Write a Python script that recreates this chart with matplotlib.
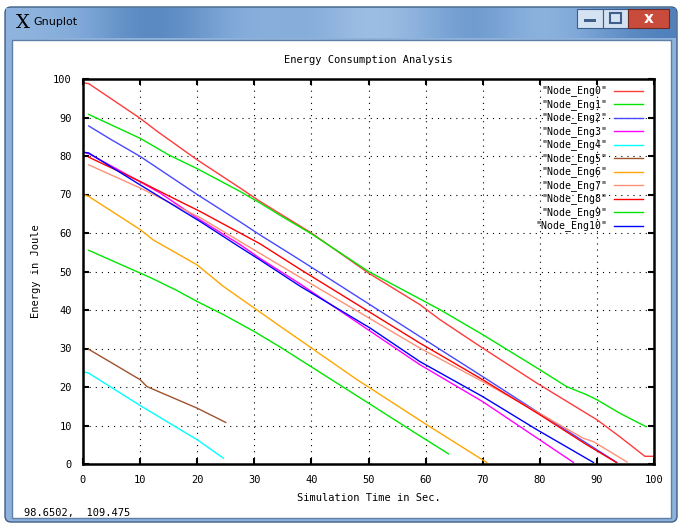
import matplotlib
matplotlib.use("Agg")
import matplotlib.pyplot as plt
import numpy as np
from matplotlib.patches import Rectangle, FancyBboxPatch

# ---- data (time in s, energy in J) ----
eng0_t = [0, 1, 10, 13, 20, 27.5, 31, 40, 50, 59, 62.5, 70, 79.5, 90, 94, 98.4, 100]
eng0_e = [99, 98.8, 89.8, 86.4, 79, 71.7, 68.2, 60, 49.6, 41.4, 37.5, 30.1, 21, 11.5, 7.1, 2, 2]
eng1_t = [1, 10, 15, 20, 27.5, 31, 34.5, 40, 50, 62.5, 70, 80, 84.7, 88.2, 90, 94, 98.6]
eng1_e = [90.8, 84.6, 80.3, 76.7, 70.8, 67.8, 64.6, 59.8, 50, 40.1, 33.6, 24.5, 20.1, 18, 16.7, 13.2, 9.7]
eng2_t = [1, 5, 10, 20, 27.5, 31, 38, 59, 70, 79.5, 93.5]
eng2_e = [87.8, 84.2, 79.9, 70, 62.9, 59.5, 53, 33.1, 22.7, 13.6, 0.4]
eng3_t = [0, 1, 9.4, 13.5, 20.5, 27.5, 31, 38, 50, 59, 70, 85.9]
eng3_e = [81, 80.6, 73.8, 70.4, 63.4, 57, 53.4, 46.8, 34.8, 25.8, 16.2, 0.4]
eng4_t = [0, 1, 10, 20, 24.6]
eng4_e = [24, 23.6, 15.2, 6.3, 1.5]
eng5_t = [1, 10, 11.2, 20, 25]
eng5_e = [29.8, 21.9, 20.1, 14.5, 10.8]
eng6_t = [0, 1, 10, 12.3, 20, 24.6, 30, 34.4, 48, 60.2, 70.7]
eng6_e = [70, 69.5, 60.9, 58.2, 51.7, 46.1, 40.5, 35.9, 21.9, 10.2, 0.4]
eng7_t = [1, 10, 20.5, 27.5, 38, 59, 70, 80, 87.6, 89.4, 95.3]
eng7_e = [77.7, 71.7, 64, 57.8, 48.5, 30.1, 21.4, 13.1, 6.7, 5.8, 0.5]
eng8_t = [1, 10, 15.2, 20.5, 27.5, 31, 38, 59, 70, 80, 88, 93.4]
eng8_e = [79.7, 73.4, 69.5, 65.6, 60, 57.2, 50.6, 31.4, 21.9, 12.8, 5.2, 0.4]
eng9_t = [1, 10, 11.7, 16.4, 20, 24.6, 30, 34.4, 50, 59, 64]
eng9_e = [55.5, 49.6, 48.5, 45.1, 42.2, 38.8, 34.4, 30.5, 15.8, 7.3, 2.65]
eng10_t = [0, 1, 10, 20.5, 27.5, 31, 38, 50.3, 59, 70, 79.5, 89.4]
eng10_e = [81, 80.8, 72.5, 63, 56.3, 53, 46.2, 35.3, 26.6, 17.5, 8.9, 0.4]

labels = ['"Node_Eng%d"' % i for i in range(11)]
series = [(eng0_t, eng0_e), (eng1_t, eng1_e), (eng2_t, eng2_e), (eng3_t, eng3_e),
          (eng4_t, eng4_e), (eng5_t, eng5_e), (eng6_t, eng6_e), (eng7_t, eng7_e),
          (eng8_t, eng8_e), (eng9_t, eng9_e), (eng10_t, eng10_e)]
colors = ["#ff3a3a", "#00e600", "#4848ff", "#ff00ff", "#00ffff", "#a0522d",
          "#ffa500", "#ff9078", "#ff0000", "#00e600", "#0000ff"]

W, H = 678, 523
MONO = "DejaVu Sans Mono"
fig = plt.figure(figsize=(W / 100, H / 100), dpi=100)

# ---- window chrome (pixel coordinates, y down) ----
bg = fig.add_axes([0, 0, 1, 1])
bg.set_xlim(0, W)
bg.set_ylim(H, 0)
bg.axis("off")
frame = FancyBboxPatch((5, 7), 672, 515, boxstyle="round,pad=0,rounding_size=6",
                       facecolor="#8fb2dc", edgecolor="#3e5f86", lw=1)
bg.add_patch(frame)
grad = np.array([[0.55, 0.45, 0.2, 0.35, 0.55, 0.45, 0.7, 0.5, 0.3, 0.6, 0.4, 0.2]])
bg.imshow(grad, cmap=matplotlib.colors.LinearSegmentedColormap.from_list(
    "aero", ["#4f80bb", "#7fa8d8", "#a9c6e8"]), extent=(6, 676, 38, 8),
    aspect="auto", interpolation="bicubic", zorder=2)
bg.add_patch(Rectangle((12, 40), 659, 478, facecolor="white", edgecolor="#5f7fa8",
                       lw=1, zorder=3))
# caption buttons
bg.add_patch(Rectangle((577, 9), 26, 19, facecolor="#d4e2f2", edgecolor="#3b5f8a", lw=0.8, zorder=4))
bg.add_patch(Rectangle((603, 9), 25, 19, facecolor="#d4e2f2", edgecolor="#3b5f8a", lw=0.8, zorder=4))
bg.add_patch(Rectangle((628, 9), 41, 19, facecolor="#c94b3c", edgecolor="#6b2a22", lw=0.8, zorder=4))
bg.add_patch(Rectangle((584, 19), 12, 3, facecolor="#3f5f88", edgecolor="none", zorder=5))
bg.add_patch(Rectangle((610, 13), 11, 10, facecolor="none", edgecolor="#3f5f88", lw=1.5, zorder=5))
bg.text(648.5, 18.5, "x", ha="center", va="center", fontsize=11, color="white",
        fontweight="bold", zorder=5)
bg.text(16, 23, "X", ha="left", va="center", fontsize=14, family="DejaVu Serif", zorder=5)
bg.text(33, 22, "Gnuplot", ha="left", va="center", fontsize=8, zorder=5)
bg.text(24, 513, "98.6502,  109.475", ha="left", va="center", fontsize=7.5,
        family=MONO, zorder=5)

# ---- plot area ----
x0, x1, y0, y1 = 83, 654, 464, 79
ax = fig.add_axes([x0 / W, 1 - y0 / H, (x1 - x0) / W, (y0 - y1) / H])
ax.set_facecolor("none")
for (t, e), c in zip(series, colors):
    ax.plot(t, e, color=c, lw=1.0)

ax.set_xlim(0, 100)
ax.set_ylim(0, 100)
ticks = np.arange(0, 101, 10)
ax.set_xticks(ticks)
ax.set_yticks(ticks)
ax.tick_params(direction="in", length=4, width=1.5, top=True, right=True,
               labelsize=7.5, pad=8)
for lab in ax.get_xticklabels() + ax.get_yticklabels():
    lab.set_family(MONO)
for s in ax.spines.values():
    s.set_linewidth(1.8)
ax.grid(True, color="black", lw=0.8, linestyle=(0, (1, 4.5)))

ax.set_title("Energy Consumption Analysis", fontsize=7.5, family=MONO, pad=11.5)
ax.set_xlabel("Simulation Time in Sec.", fontsize=7.5, family=MONO, labelpad=6)
ax.set_ylabel("Energy in Joule", fontsize=7.5, family=MONO, labelpad=8.5)

# ---- key (top right, text first, sample after) ----
def frac(px, py):
    return (px - x0) / (x1 - x0), (y0 - py) / (y0 - y1)

for i, (lab, c) in enumerate(zip(labels, colors)):
    py = 91 + 13.47 * i
    tx, ty = frac(607, py)
    ax.text(tx, ty, lab, transform=ax.transAxes, ha="right", va="center",
            fontsize=7.1, family=MONO)
    lx0, ly = frac(614, py)
    lx1, _ = frac(643, py)
    ax.plot([lx0, lx1], [ly, ly], transform=ax.transAxes, color=c, lw=1.0)

fig.savefig("out.png", dpi=100)
